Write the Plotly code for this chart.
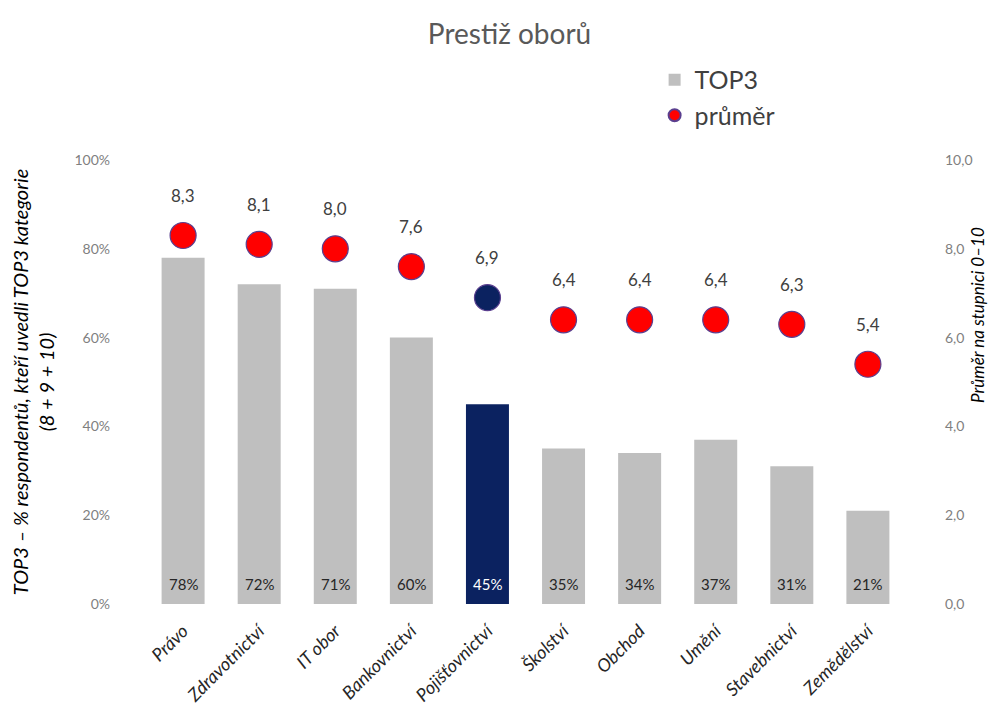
import plotly.graph_objects as go

# ---- data ----
categories = ["Právo", "Zdravotnictví", "IT obor", "Bankovnictví", "Pojišťovnictví",
              "Školství", "Obchod", "Umění", "Stavebnictví", "Zemědělství"]
top3_pct = [78, 72, 71, 60, 45, 35, 34, 37, 31, 21]
prumer = [8.3, 8.1, 8.0, 7.6, 6.9, 6.4, 6.4, 6.4, 6.3, 5.4]
highlight = "Pojišťovnictví"
left_ticks = [0, 20, 40, 60, 80, 100]
right_ticks = [0, 2, 4, 6, 8, 10]

# ---- styles ----
FONT = "Lato"
GREY = "#bfbfbf"
NAVY = "#0b2260"
RED = "#ff0000"
RING = "#5a3f8f"

bar_colors = [NAVY if c == highlight else GREY for c in categories]
dot_colors = [NAVY if c == highlight else RED for c in categories]

fig = go.Figure()
fig.add_trace(go.Bar(
    x=categories, y=top3_pct, name="TOP3", yaxis="y",
    marker=dict(color=bar_colors, line=dict(width=0)),
    hoverinfo="skip",
))
fig.add_trace(go.Scatter(
    x=categories, y=prumer, mode="markers", name="průměr", yaxis="y2",
    marker=dict(size=26, color=dot_colors, line=dict(color=RING, width=1.2)),
))

# percentage labels at the foot of each bar
for c, v in zip(categories, top3_pct):
    fig.add_annotation(
        x=c, y=0, xref="x", yref="y", yshift=20, showarrow=False,
        text=f"{v}%",
        font=dict(family=FONT, size=15, color="white" if c == highlight else "#262626"),
    )
# average labels above the dots
for c, v in zip(categories, prumer):
    fig.add_annotation(
        x=c, y=v, xref="x", yref="y2", yshift=40, showarrow=False,
        text=f"{v:.1f}".replace(".", ","),
        font=dict(family=FONT, size=17, color="#404040"),
    )
# right-hand axis title (sits high on the axis, as in the original)
fig.add_annotation(
    x=1, xref="paper", xshift=66, y=0.65, yref="paper", textangle=-90,
    showarrow=False, text="Průměr na stupnici 0–10",
    font=dict(family=FONT, size=17, color="#000000", style="italic"),
)

fig.update_layout(
    width=1005, height=726,
    margin=dict(l=127, r=81, t=160, b=122, autoexpand=False),
    paper_bgcolor="white", plot_bgcolor="white",
    separators=", ",
    font=dict(family=FONT, color="#404040"),
    title=dict(text="Prestiž oborů", x=0.507, xanchor="center", xref="container",
               y=1 - 34 / 726, yanchor="middle", yref="container",
               font=dict(family=FONT, size=28, color="#595959")),
    showlegend=True,
    legend=dict(x=0.662, y=1.232, xanchor="left", yanchor="top",
                font=dict(family=FONT, size=25, color="#404040"),
                bgcolor="rgba(0,0,0,0)", itemsizing="constant"),
    bargap=0.435,
    xaxis=dict(type="category", showgrid=False, showline=False, zeroline=False,
               ticks="", tickangle=-45, automargin=False, ticklabelstandoff=12,
               tickfont=dict(family=FONT, size=18, color="#262626", style="italic")),
    yaxis=dict(range=[0, 100], tickmode="array", tickvals=left_ticks,
               ticktext=[f"{t}%" for t in left_ticks],
               showgrid=False, zeroline=False, showline=False, ticks="",
               ticklabelstandoff=16, automargin=False,
               tickfont=dict(family=FONT, size=14, color="#7f7f7f"),
               title=dict(text="TOP3 – % respondentů, kteří uvedli TOP3 kategorie<br>(8 + 9 + 10)",
                          standoff=14,
                          font=dict(family=FONT, size=20, color="#000000", style="italic"))),
    yaxis2=dict(range=[0, 10], overlaying="y", side="right",
                tickmode="array", tickvals=right_ticks, tickformat=".1f",
                showgrid=False, zeroline=False, showline=False, ticks="",
                ticklabelstandoff=20, automargin=False,
                tickfont=dict(family=FONT, size=14, color="#7f7f7f")),
)

fig.write_html("out.html")
